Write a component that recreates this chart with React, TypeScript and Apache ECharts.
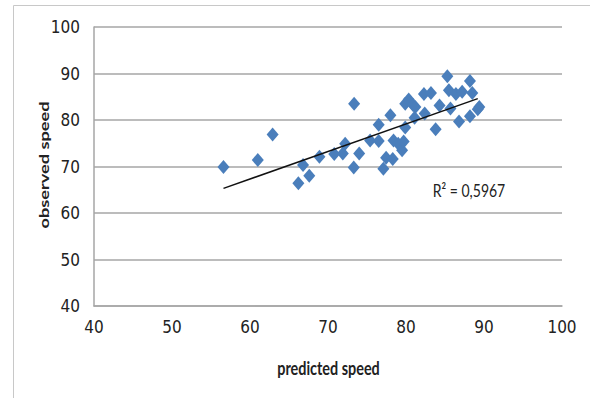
import React, { useEffect, useRef } from "react";
import * as echarts from "echarts";

const predicted = [56.6, 61.0, 62.9, 66.2, 66.8, 67.6, 68.9, 70.8, 71.9, 72.2, 73.35, 73.3, 74.0, 75.4, 76.5, 76.5, 77.1, 77.45, 78.0, 78.3, 78.4, 79.0, 79.5, 79.7, 79.9, 79.9, 80.35, 80.9, 81.2, 81.1, 82.3, 82.4, 83.2, 83.8, 84.3, 85.3, 85.5, 85.7, 86.4, 86.8, 87.2, 88.2, 88.2, 88.5, 89.2, 89.4];
const observed = [69.9, 71.4, 76.9, 66.4, 70.3, 68.0, 72.1, 72.7, 72.8, 74.9, 83.5, 69.8, 72.8, 75.6, 75.5, 79.0, 69.5, 71.9, 81.0, 71.6, 75.6, 74.9, 73.5, 75.4, 78.4, 83.5, 84.4, 83.2, 82.8, 80.5, 85.6, 81.4, 85.8, 78.0, 83.1, 89.4, 86.4, 82.5, 85.6, 79.7, 86.1, 88.4, 80.8, 85.8, 82.3, 82.8];
const trendX = [56.6, 89.2];
const trendY = [65.3, 84.6];
const xTicks = [40, 50, 60, 70, 80, 90, 100];
const yTicks = [40, 50, 60, 70, 80, 90, 100];
const xName = "predicted speed";
const yName = "observed speed";
const r2Label = "R² = 0,5967";

export default function App() {
  const ref = useRef<HTMLDivElement>(null);
  useEffect(() => {
    if (!ref.current) return;
    const chart = echarts.init(ref.current, null, { renderer: "svg" });
    const font = "Lato, 'Open Sans', sans-serif";
    const tickFont = "'Liberation Sans Narrow', 'DejaVu Sans Condensed', Lato, sans-serif";
    chart.setOption({
      animation: false,
      backgroundColor: "#fff",
      grid: { left: 94, right: 28, top: 27, bottom: 92 },
      xAxis: {
        type: "value",
        min: xTicks[0],
        max: xTicks[xTicks.length - 1],
        interval: 10,
        axisLine: { show: true, lineStyle: { color: "#a6a6a6", width: 1.5 } },
        axisTick: { show: false },
        splitLine: { show: false },
        axisLabel: { fontFamily: tickFont, fontSize: 17, color: "#222", margin: 12 },
      },
      yAxis: {
        type: "value",
        min: yTicks[0],
        max: yTicks[yTicks.length - 1],
        interval: 10,
        axisLine: { show: true, lineStyle: { color: "#a6a6a6", width: 1.5 } },
        axisTick: { show: false },
        splitLine: { show: true, lineStyle: { color: "#a6a6a6", width: 1.5 } },
        axisLabel: { fontFamily: tickFont, fontSize: 17, color: "#222", margin: 14 },
      },
      series: [
        {
          type: "scatter",
          symbol: "diamond",
          symbolSize: [12, 14],
          itemStyle: { color: "#4a7ebb", opacity: 1 },
          data: predicted.map((p, i) => [p, observed[i]]),
          z: 2,
        },
        {
          type: "line",
          data: trendX.map((x, i) => [x, trendY[i]]),
          symbol: "none",
          lineStyle: { color: "#111", width: 1.5 },
          z: 3,
        },
      ],
      graphic: [
        {
          type: "rect",
          shape: { x: 13.5, y: 5.5, width: 620, height: 420 },
          style: { fill: "none", stroke: "#c8c8c8", lineWidth: 1 },
          silent: true,
        },
        {
          type: "text",
          x: 469,
          y: 190,
          scaleY: 1.3,
          style: { text: r2Label, fontFamily: font, fontSize: 14, fill: "#222", textAlign: "center", textVerticalAlign: "middle" },
        },
        {
          type: "text",
          x: 328.5,
          y: 368,
          scaleY: 1.35,
          style: { text: xName, fontFamily: font, fontWeight: "bold", fontSize: 14.4, fill: "#222", textAlign: "center", textVerticalAlign: "middle" },
        },
        {
          type: "text",
          x: 43,
          y: 165,
          rotation: Math.PI / 2,
          scaleX: 1.3,
          style: { text: yName, fontFamily: font, fontWeight: "bold", fontSize: 14, fill: "#222", textAlign: "center", textVerticalAlign: "middle" },
        },
      ],
    });
    return () => chart.dispose();
  }, []);
  return <div ref={ref} style={{ width: 590, height: 398, position: "absolute", left: 0, top: 0 }} />;
}
